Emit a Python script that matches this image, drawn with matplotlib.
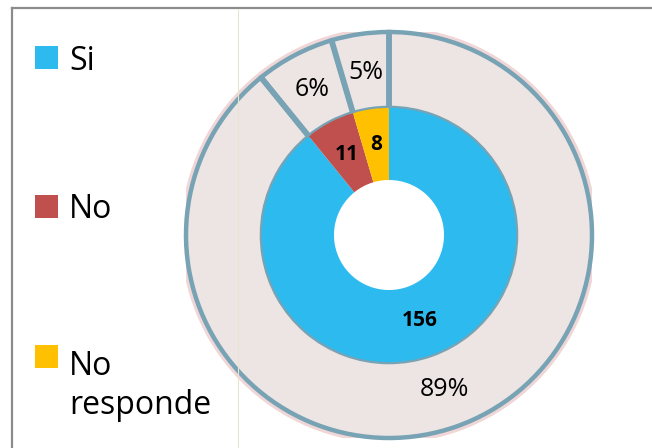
import numpy as np
import matplotlib
matplotlib.use("Agg")
from matplotlib import pyplot as plt
from matplotlib.lines import Line2D
from matplotlib.patches import Rectangle, Circle

labels = ["Si", "No", "No\nresponde"]
counts = [156, 11, 8]
colors = ["#2DBBEF", "#C0504D", "#FFC000"]

RING_FILL = "#EDE5E4"
RING_EDGE = "#77A3B4"

plt.rcParams["font.family"] = ["Open Sans", "DejaVu Sans"]

W, H = 652, 448
fig = plt.figure(figsize=(W / 100, H / 100), dpi=100)
fig.patch.set_facecolor("white")


def fx(px):
    return px / W


def fy(py):
    # py measured from the top of the picture
    return 1 - py / H


# frame of the chart area
fig.add_artist(Line2D([fx(12), fx(12)], [fy(8), 0], color="#8C8C8C", lw=1.6))
fig.add_artist(Line2D([fx(12), 1], [fy(8), fy(8)], color="#8C8C8C", lw=1.6))
fig.add_artist(Line2D([fx(238), fx(238)], [fy(10), 0], color="#E8E4D2", lw=0.8))

# pie axes: centre (389, 235) px, outer radius 203 px
cx, cy, R = 389, 235, 203
ax = fig.add_axes([fx(cx - R), fy(cy + R), (2 * R) / W, (2 * R) / H])
total = sum(counts)

# faint pink glow round the outer ring
ax.add_patch(Circle((0, 0), 1.012, facecolor="none", edgecolor="#F0D6D6",
                    lw=4, zorder=0))

outer, _, outer_txt = ax.pie(
    counts, radius=1.0, startangle=90, counterclock=False,
    colors=[RING_FILL] * len(counts),
    wedgeprops=dict(width=0.374, edgecolor=RING_EDGE, linewidth=3.2),
    autopct=lambda p: f"{p:.0f}%", pctdistance=0.81,
    textprops=dict(fontsize=18, color="black"),
)

inner, _, inner_txt = ax.pie(
    counts, radius=0.626, startangle=90, counterclock=False,
    colors=colors,
    wedgeprops=dict(width=0.355, edgecolor="none", linewidth=0),
    autopct=lambda p: f"{round(p * total / 100)}", pctdistance=0.716,
    textprops=dict(fontsize=15, fontweight="bold", color="black"),
)
for w in outer:
    w.set_zorder(1)
for w in inner:
    w.set_zorder(2)
for t in outer_txt + inner_txt:
    t.set_zorder(5)

# heavier separators between the outer ring slices
bounds = 90 - 360 * np.cumsum([0] + counts[:-1]) / total
for a in np.radians(bounds):
    ax.plot([0.626 * np.cos(a), np.cos(a)], [0.626 * np.sin(a), np.sin(a)],
            color=RING_EDGE, lw=4.2, solid_capstyle="butt", zorder=3)

ax.set_xlim(-1, 1)
ax.set_ylim(-1, 1)
ax.set_aspect("equal")
ax.axis("off")

# legend, drawn by hand so the wide spacing matches
sq = 23
legend_centres = [58, 207, 356]
legend_baselines = [70, 218, 414]
for lab, col, yc, yb in zip(labels, colors, legend_centres, legend_baselines):
    fig.add_artist(Rectangle((fx(35), fy(yc + sq / 2)), sq / W, sq / H,
                             facecolor=col, edgecolor="none"))
    fig.text(fx(69), fy(yb), lab, fontsize=23, color="black",
             va="baseline", ha="left", linespacing=1.25)

fig.savefig("out.png", dpi=100)
